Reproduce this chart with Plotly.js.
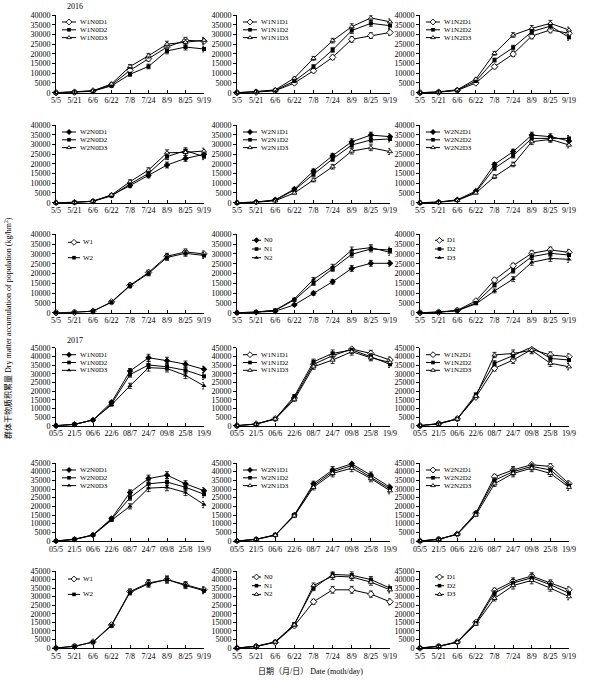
<!DOCTYPE html>
<html><head><meta charset="utf-8">
<script src="https://cdn.plot.ly/plotly-3.0.1.min.js"></script>
<style>html,body{margin:0;padding:0;background:#fff}#chart{width:614px;height:682px}</style>
</head><body><div id="chart"></div>
<script>
// ---- tick labels / categories ----
const dates2016 = ['5/5','5/21','6/6','6/22','7/8','7/24','8/9','8/25','9/19'];
const dates2017 = ['05/5','21/5','06/6','22/6','08/7','24/7','09/8','25/8','19/9'];

// ---- error bar sizes (kg/hm2) ----
const err2016 = [0,100,200,500,1000,1200,1500,1500,1500];
const err2017 = [0,200,400,800,1500,2000,2000,1800,1800];

// ---- legend names ----
const lab_W1N0 = ['W1N0D1','W1N0D2','W1N0D3'];
const lab_W1N1 = ['W1N1D1','W1N1D2','W1N1D3'];
const lab_W1N2 = ['W1N2D1','W1N2D2','W1N2D3'];
const lab_W2N0 = ['W2N0D1','W2N0D2','W2N0D3'];
const lab_W2N1 = ['W2N1D1','W2N1D2','W2N1D3'];
const lab_W2N2 = ['W2N2D1','W2N2D2','W2N2D3'];
const lab_W = ['W1','W2'];
const lab_N = ['N0','N1','N2'];
const lab_D = ['D1','D2','D3'];

// ---- 2016 data ----
const y16_W1N0D1 = [0,300,900,4000,11500,17500,23500,27000,26500];
const y16_W1N0D2 = [0,200,800,3500,9500,13500,21500,23500,22500];
const y16_W1N0D3 = [0,400,1000,4500,13500,19000,25000,26000,27000];
const y16_W1N1D1 = [0,300,1000,5000,11300,18200,27500,29400,31000];
const y16_W1N1D2 = [0,500,1200,6000,13400,22000,32000,35700,34500];
const y16_W1N1D3 = [0,500,1500,7500,17700,26800,34000,38500,36500];
const y16_W1N2D1 = [0,300,1200,5000,13400,19900,29200,32300,30600];
const y16_W1N2D2 = [0,300,1300,6000,16800,23200,31400,34300,28500];
const y16_W1N2D3 = [0,400,1500,7000,20300,29700,33100,35700,32300];
const y16_W2N0D1 = [0,200,800,3800,8800,14000,19400,22800,24900];
const y16_W2N0D2 = [0,100,700,3500,9600,15100,23700,26800,23700];
const y16_W2N0D3 = [0,200,800,4000,10800,16800,25700,25900,26600];
const y16_W2N1D1 = [0,300,1500,7000,16300,24200,31400,34800,34000];
const y16_W2N1D2 = [0,300,1300,6500,14600,22500,29700,32300,32800];
const y16_W2N1D3 = [0,200,1000,5000,11700,18500,26600,28300,26300];
const y16_W2N2D1 = [0,300,1500,6000,19700,26300,34800,34000,31800];
const y16_W2N2D2 = [0,300,1300,5500,17700,24200,33100,33100,33100];
const y16_W2N2D3 = [0,200,1200,5000,13400,19700,31400,32600,29700];
const y16_W1 = [0,200,800,5500,14000,20500,28800,31000,30000];
const y16_W2 = [0,200,800,5300,13700,20000,28200,30300,29200];
const y16_N0 = [0,200,800,4000,9900,15800,22600,25200,25200];
const y16_N1 = [0,300,1200,6500,15000,22300,29800,32500,32000];
const y16_N2 = [0,300,1300,7000,17000,23500,32000,33200,30800];
const y16_D1 = [0,300,1200,6000,16700,24000,30300,32000,30800];
const y16_D2 = [0,300,1100,5000,14100,21400,28600,30300,29400];
const y16_D3 = [0,200,1000,4500,11100,17200,25700,27700,27200];

// ---- 2017 data ----
const y17_W1N0D1 = [0,800,3300,13500,31500,39200,37500,35500,32500];
const y17_W1N0D2 = [0,800,3300,12500,29500,35000,34000,32000,28500];
const y17_W1N0D3 = [0,700,3300,12000,23000,33500,33000,29000,23000];
const y17_W1N1D1 = [0,1000,4000,16000,35400,40400,44200,41700,37900];
const y17_W1N1D2 = [0,1000,4000,17000,36900,41700,43700,39800,35400];
const y17_W1N1D3 = [0,900,3800,15000,34000,37900,42700,39200,36500];
const y17_W1N2D1 = [0,1200,4000,16500,33100,37900,44000,40800,39800];
const y17_W1N2D2 = [0,1200,4000,18000,36000,40400,45500,38800,37900];
const y17_W1N2D3 = [0,1000,3800,17000,40800,41700,43500,36000,34000];
const y17_W2N0D1 = [0,1000,3500,13000,28000,36000,38000,33000,29000];
const y17_W2N0D2 = [0,1000,3500,12500,25000,33000,34000,31000,27000];
const y17_W2N0D3 = [0,900,3300,12000,20000,30500,31000,28000,21000];
const y17_W2N1D1 = [0,1000,3500,15000,33000,41000,44500,38000,31000];
const y17_W2N1D2 = [0,1000,3500,15000,32000,40000,43500,37000,30000];
const y17_W2N1D3 = [0,900,3300,14500,31000,39000,42000,36000,29000];
const y17_W2N2D1 = [0,1000,4000,16000,37000,41000,44000,43000,33000];
const y17_W2N2D2 = [0,1000,4000,16000,35000,40000,43000,41000,32000];
const y17_W2N2D3 = [0,900,3800,15000,33000,39000,42000,39000,31000];
const y17_W1 = [0,1000,3500,13500,33000,38000,40000,37000,34000];
const y17_W2 = [0,1000,3400,13000,32500,37500,40000,36500,33500];
const y17_N0 = [0,900,3300,13000,27000,34000,34000,31500,27000];
const y17_N1 = [0,1000,3600,14000,35000,43000,42500,40000,35000];
const y17_N2 = [0,1000,3500,13500,36500,42000,41500,38500,34000];
const y17_D1 = [0,1000,3600,15000,33500,39000,42000,38000,34000];
const y17_D2 = [0,1000,3500,14500,32000,38000,41000,37000,32000];
const y17_D3 = [0,900,3300,14000,29000,36500,39500,35000,30000];

// ---- panel configuration ----
const S_OPEN = ['diamond-o','square','triangle-up-o'];
const S_FILL = ['diamond','square','triangle-up'];
const S_MIX  = ['diamond','square','triangle-up-o'];
const panels = [
  {cat:dates2016, err:err2016, ymax:40000, names:lab_W1N0, ys:[y16_W1N0D1,y16_W1N0D2,y16_W1N0D3], sym:S_OPEN},
  {cat:dates2016, err:err2016, ymax:40000, names:lab_W1N1, ys:[y16_W1N1D1,y16_W1N1D2,y16_W1N1D3], sym:S_OPEN},
  {cat:dates2016, err:err2016, ymax:40000, names:lab_W1N2, ys:[y16_W1N2D1,y16_W1N2D2,y16_W1N2D3], sym:S_OPEN},
  {cat:dates2016, err:err2016, ymax:40000, names:lab_W2N0, ys:[y16_W2N0D1,y16_W2N0D2,y16_W2N0D3], sym:S_MIX},
  {cat:dates2016, err:err2016, ymax:40000, names:lab_W2N1, ys:[y16_W2N1D1,y16_W2N1D2,y16_W2N1D3], sym:S_MIX},
  {cat:dates2016, err:err2016, ymax:40000, names:lab_W2N2, ys:[y16_W2N2D1,y16_W2N2D2,y16_W2N2D3], sym:S_MIX},
  {cat:dates2016, err:err2016, ymax:40000, names:lab_W, ys:[y16_W1,y16_W2], sym:['diamond-o','square'], wide:true},
  {cat:dates2016, err:err2016, ymax:40000, names:lab_N, ys:[y16_N0,y16_N1,y16_N2], sym:S_FILL, mid:true},
  {cat:dates2016, err:err2016, ymax:40000, names:lab_D, ys:[y16_D1,y16_D2,y16_D3], sym:['diamond-o','square','triangle-up'], mid:true},
  {cat:dates2017, err:err2017, ymax:45000, names:lab_W1N0, ys:[y17_W1N0D1,y17_W1N0D2,y17_W1N0D3], sym:S_FILL},
  {cat:dates2017, err:err2017, ymax:45000, names:lab_W1N1, ys:[y17_W1N1D1,y17_W1N1D2,y17_W1N1D3], sym:S_OPEN},
  {cat:dates2017, err:err2017, ymax:45000, names:lab_W1N2, ys:[y17_W1N2D1,y17_W1N2D2,y17_W1N2D3], sym:S_OPEN},
  {cat:dates2017, err:err2017, ymax:45000, names:lab_W2N0, ys:[y17_W2N0D1,y17_W2N0D2,y17_W2N0D3], sym:S_FILL},
  {cat:dates2017, err:err2017, ymax:45000, names:lab_W2N1, ys:[y17_W2N1D1,y17_W2N1D2,y17_W2N1D3], sym:S_MIX},
  {cat:dates2017, err:err2017, ymax:45000, names:lab_W2N2, ys:[y17_W2N2D1,y17_W2N2D2,y17_W2N2D3], sym:S_OPEN},
  {cat:dates2016, err:err2017, ymax:45000, names:lab_W, ys:[y17_W1,y17_W2], sym:['diamond-o','square'], wide:true},
  {cat:dates2016, err:err2017, ymax:45000, names:lab_N, ys:[y17_N0,y17_N1,y17_N2], sym:S_OPEN, mid:true},
  {cat:dates2016, err:err2017, ymax:45000, names:lab_D, ys:[y17_D1,y17_D2,y17_D3], sym:S_OPEN, mid:true}
];

const W = 614, H = 682;
const FONT = "'Liberation Serif','Times New Roman','Noto Sans CJK SC',serif";
const colsPx = [[56,204],[237,390],[420,569]];
const rowsPx = [[15,92.7],[125,202.7],[234.3,312.7],[347.7,425.7],[463,541],[571,648]];

function markerStyle(s, scale){
  scale = scale || 1;
  const open = s.endsWith('-o');
  const sym = open ? s.slice(0,-2) : s;
  const size = (sym==='square' ? 4 : (sym==='diamond' ? 5 : 4.5)) * scale;
  return open ? {symbol:sym, size:size, color:'white', line:{color:'black', width:0.9}}
              : {symbol:sym, size:size, color:'black', line:{color:'black', width:0}};
}

const traces = [];
const layout = {
  width:W, height:H, margin:{l:0,r:0,t:0,b:0}, showlegend:false,
  paper_bgcolor:'white', plot_bgcolor:'rgba(0,0,0,0)',
  font:{family:FONT, size:8, color:'black'},
  annotations:[], shapes:[]
};

panels.forEach((p,i)=>{
  const n = i+1, m = i+19;
  const row = Math.floor(i/3), col = i%3;
  const [c0,c1] = colsPx[col], [r0,r1] = rowsPx[row];
  const xd = [c0/W, c1/W], yd = [1-r1/H, 1-r0/H];
  layout['xaxis'+n] = {domain:xd, anchor:'y'+n, type:'category', categoryorder:'array', categoryarray:p.cat,
    range:[0,p.cat.length-1], showline:true, linecolor:'black', linewidth:1, ticks:'inside', ticklen:3,
    tickcolor:'black', tickfont:{size:8}, showgrid:false, zeroline:false, fixedrange:true};
  layout['yaxis'+n] = {domain:yd, anchor:'x'+n, range:[0,p.ymax], tick0:0, dtick:5000, tickformat:'d',
    exponentformat:'none', showline:true,
    linecolor:'black', linewidth:1, ticks:'outside', ticklen:3, tickcolor:'black', tickfont:{size:8},
    showgrid:false, zeroline:false, fixedrange:true};
  // overlay axes in pixel units for the legend box
  layout['xaxis'+m] = {domain:xd, anchor:'y'+m, range:[0,c1-c0], visible:false, fixedrange:true};
  layout['yaxis'+m] = {domain:yd, anchor:'x'+m, range:[r1-r0,0], visible:false, fixedrange:true};

  p.ys.forEach((ys,k)=>{
    traces.push({type:'scatter', mode:'lines+markers', x:p.cat, y:ys, xaxis:'x'+n, yaxis:'y'+n,
      line:{color:'black', width:1}, marker:markerStyle(p.sym[k]), cliponaxis:false, hoverinfo:'skip',
      error_y:{type:'data', array:p.err, visible:true, color:'black', thickness:0.8, width:2}});
  });

  // legend
  let x0=6, len=14, tx=23, y0=7, dy=7.8;
  if (p.wide){ x0=12; len=12; tx=26; y0=8; dy=15.4; }
  if (p.mid){ x0=15; len=9; tx=26; y0=6; dy=8.7; }
  p.names.forEach((nm,k)=>{
    const yy = y0 + k*dy;
    traces.push({type:'scatter', mode:'lines', x:[x0,x0+len], y:[yy,yy], xaxis:'x'+m, yaxis:'y'+m,
      line:{color:'black', width:1}, hoverinfo:'skip', cliponaxis:false});
    traces.push({type:'scatter', mode:'markers', x:[x0+len/2], y:[yy], xaxis:'x'+m, yaxis:'y'+m,
      marker:markerStyle(p.sym[k], 0.9), hoverinfo:'skip', cliponaxis:false});
    layout.annotations.push({xref:'x'+m, yref:'y'+m, x:tx, y:yy, text:nm, showarrow:false,
      xanchor:'left', yanchor:'middle', font:{size:7}, borderpad:0});
  });
});

layout.annotations.push(
  {xref:'paper', yref:'paper', x:75/W, y:1-7/H, text:'2016', showarrow:false, xanchor:'center', yanchor:'middle', font:{size:8}},
  {xref:'paper', yref:'paper', x:75/W, y:1-340/H, text:'2017', showarrow:false, xanchor:'center', yanchor:'middle', font:{size:8}},
  {xref:'paper', yref:'paper', x:8/W, y:1-328/H, textangle:-90, showarrow:false, xanchor:'center', yanchor:'middle',
   text:'群体干物质积累量 Dry matter accumulation of population (kg/hm<sup>2</sup>)', font:{size:8}},
  {xref:'paper', yref:'paper', x:310/W, y:1-671/H, showarrow:false, xanchor:'center', yanchor:'middle',
   text:'日期（月/日） Date (moth/day)', font:{size:8}}
);

Plotly.newPlot('chart', traces, layout, {staticPlot:true, displayModeBar:false});
</script></body></html>
